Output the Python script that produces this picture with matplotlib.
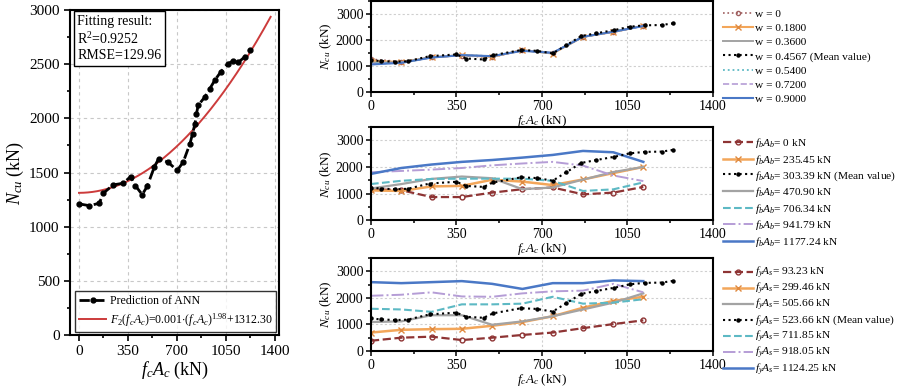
import numpy as np
import matplotlib
matplotlib.use("Agg")
import matplotlib.pyplot as plt
from matplotlib.ticker import MultipleLocator

plt.rcParams['font.family'] = ['Liberation Serif', 'DejaVu Serif']
plt.rcParams['mathtext.fontset'] = 'custom'
plt.rcParams['mathtext.rm'] = 'Liberation Serif'
plt.rcParams['mathtext.it'] = 'Liberation Serif:italic'
plt.rcParams['mathtext.bf'] = 'Liberation Serif:bold'

# ---------------- data ----------------
# ANN prediction (mean-value input), left panel
ann_x = [2, 74, 145, 174, 245, 317, 369, 402, 452, 488, 538, 569, 636, 702, 745,
         793, 812, 829, 840, 852, 900, 936, 971, 1014, 1066, 1102, 1138, 1186, 1221]
ann_y = [1210, 1194, 1216, 1309, 1386, 1401, 1463, 1380, 1296, 1373, 1549, 1627, 1596,
         1519, 1596, 1765, 1858, 1950, 2043, 2120, 2197, 2275, 2352, 2429, 2506, 2528,
         2516, 2568, 2630]

# fitted function F2 = a * x^b + c
fit_a, fit_b, fit_c = 0.001, 1.98, 1312.30
fit_xmax = 1370

# mean-value curve in the right panels
mean_x = [0, 40, 100, 150, 240, 350, 390, 461, 500, 614, 680, 744, 800, 861, 920,
          997, 1060, 1120, 1190, 1238]
mean_y = [1224, 1190, 1165, 1180, 1378, 1444, 1288, 1250, 1417, 1610, 1583, 1483, 1803,
          2150, 2254, 2382, 2510, 2564, 2575, 2641]

# common fcAc grid of the parametric curves
grid_x = [0, 124, 248, 372, 496, 620, 744, 868, 992, 1115]

# panel 1: w
w_labels = ['w = 0', 'w = 0.1800', 'w = 0.3600', 'w = 0.5400', 'w = 0.7200', 'w = 0.9000']
w_vals = [
    [1260, 1170, 1340, 1400, 1330, 1620, 1490, 2130, 2300, 2540],
    [1200, 1150, 1330, 1420, 1350, 1610, 1480, 2120, 2310, 2550],
    [1130, 1140, 1330, 1420, 1370, 1600, 1500, 2120, 2320, 2540],
    [1100, 1130, 1320, 1420, 1380, 1590, 1500, 2120, 2320, 2540],
    [1080, 1125, 1325, 1415, 1380, 1590, 1505, 2125, 2318, 2538],
    [1058, 1120, 1326, 1416, 1378, 1583, 1506, 2124, 2317, 2536],
]
w_mean_label = 'w = 0.4567 (Mean value)'

# panel 2: fbAb
fb_labels = ['$f_bA_b$= 0 kN', '$f_bA_b$= 235.45 kN', '$f_bA_b$= 470.90 kN',
             '$f_bA_b$= 706.34 kN', '$f_bA_b$= 941.79 kN', '$f_bA_b$= 1177.24 kN']
fb_vals = [
    [1166, 1128, 871, 871, 1037, 1166, 1230, 973, 1037, 1250],
    [1120, 1100, 1270, 1290, 1520, 1450, 1320, 1530, 1770, 2000],
    [1192, 1358, 1551, 1641, 1577, 1166, 1230, 1526, 1808, 2000],
    [1360, 1480, 1550, 1560, 1560, 1560, 1480, 1100, 1160, 1420],
    [1800, 1850, 1900, 1960, 2060, 2130, 2190, 2050, 1680, 1470],
    [1740, 1960, 2090, 2190, 2260, 2350, 2450, 2600, 2550, 2190],
]
fb_mean_label = '$f_bA_b$= 303.39 kN (Mean value)'

# panel 3: fyAs
fy_labels = ['$f_yA_s$= 93.23 kN', '$f_yA_s$= 299.46 kN', '$f_yA_s$= 505.66 kN',
             '$f_yA_s$= 711.85 kN', '$f_yA_s$= 918.05 kN', '$f_yA_s$= 1124.25 kN']
fy_vals = [
    [386, 501, 540, 412, 501, 604, 694, 860, 1013, 1154],
    [694, 797, 822, 835, 950, 1090, 1308, 1628, 1885, 2041],
    [1090, 1115, 1346, 1346, 987, 1115, 1308, 1564, 1820, 2169],
    [1590, 1564, 1474, 1756, 1756, 1782, 2041, 1782, 1820, 1949],
    [2079, 2118, 2208, 2054, 2041, 2169, 2246, 2272, 2528, 2208],
    [2592, 2554, 2592, 2631, 2528, 2336, 2554, 2554, 2656, 2631],
]
fy_mean_label = '$f_yA_s$= 523.66 kN (Mean value)'

# ---------------- styles ----------------
RED = '#8E3434'
ORANGE = '#F3A65A'
GREY = '#A3A3A3'
TEAL = '#5DB9C4'
PURPLE = '#B59DD6'
BLUE = '#4A78C6'

styles_w = [
    dict(color='#A06060', ls=':', lw=1.2, marker='o', ms=3, mfc='none'),
    dict(color=ORANGE, ls='-', lw=1.5, marker='x', ms=4, mec='#E08A40'),
    dict(color=GREY, ls='-', lw=1.4),
    dict(color=TEAL, ls=':', lw=1.3),
    dict(color=PURPLE, ls='--', lw=1.2),
    dict(color=BLUE, ls='-', lw=1.5),
]
styles_p = [
    dict(color=RED, ls='--', lw=1.6, marker='o', ms=3.5, mfc='none'),
    dict(color=ORANGE, ls='-', lw=1.8, marker='x', ms=4, mec='#E08A40'),
    dict(color=GREY, ls='-', lw=1.6),
    dict(color=TEAL, ls='--', lw=1.5),
    dict(color=PURPLE, ls='-.', lw=1.4),
    dict(color=BLUE, ls='-', lw=1.8),
]
mean_style = dict(color='black', ls=':', lw=1.5, marker='o', ms=2.2)

fig = plt.figure(figsize=(8.98, 3.89), dpi=100)

# ---------------- left panel ----------------
axL = fig.add_axes([0.078, 0.1388, 0.2327, 0.8355])
axL.plot(ann_x, ann_y, color='black', ls='--', lw=2, marker='o', ms=3.5,
         label='Prediction of ANN', zorder=3)
fx = np.linspace(0, fit_xmax, 300)
axL.plot(fx, fit_a * fx ** fit_b + fit_c, color='#CC3B3B', lw=1.4,
         label='$F_2(f_cA_c)$=0.001$\\cdot$$(f_cA_c)^{1.98}$+1312.30', zorder=2)
axL.set_xlim(-64, 1430)
axL.set_ylim(0, 3000)
axL.xaxis.set_major_locator(MultipleLocator(350))
axL.xaxis.set_minor_locator(MultipleLocator(175))
axL.yaxis.set_major_locator(MultipleLocator(500))
axL.yaxis.set_minor_locator(MultipleLocator(250))
axL.grid(True, which='major', color='#C8C8C8', ls=(0, (3, 3)), lw=0.8)
axL.tick_params(which='both', direction='out', labelsize=11, width=1.2)
axL.tick_params(which='major', length=4)
axL.tick_params(which='minor', length=2.5)
for s in axL.spines.values():
    s.set_linewidth(1.5)
axL.set_xlabel('$f_cA_c$ (kN)', fontsize=13, labelpad=1)
axL.set_ylabel('$N_{cu}$ (kN)', fontsize=13, labelpad=2)
axL.text(0.035, 0.985, 'Fitting result:\nR$^2$=0.9252\nRMSE=129.96', transform=axL.transAxes,
         fontsize=10, va='top', ha='left', linespacing=1.25,
         bbox=dict(boxstyle='square,pad=0.25', fc='white', ec='black', lw=1))
legL = axL.legend(loc='lower left', fontsize=8.6, frameon=True, fancybox=False,
                  edgecolor='black', handlelength=2.3, borderpad=0.3, labelspacing=0.35,
                  borderaxespad=0.1, handletextpad=0.3, mode='expand',
                  bbox_to_anchor=(0.02, 0.005, 0.97, 0.2))
legL.get_frame().set_linewidth(1)

# ---------------- right panels ----------------
panels = [
    ([0.4131, 0.7635, 0.3808, 0.234], w_labels, w_vals, w_mean_label, styles_w, 3, 0.36, 0.39),
    ([0.4131, 0.4337, 0.3808, 0.240], fb_labels, fb_vals, fb_mean_label, styles_p, 2, 0.22, 0.30),
    ([0.4131, 0.0977, 0.3808, 0.239], fy_labels, fy_vals, fy_mean_label, styles_p, 3, 0.0, 0.32),
]
for rect, labels, vals, mlabel, styles, mpos, lsp, ly in panels:
    ax = fig.add_axes(rect)
    handles = []
    for lab, v, st in zip(labels, vals, styles):
        h, = ax.plot(grid_x, v, label=lab, **st)
        handles.append(h)
    hm, = ax.plot(mean_x, mean_y, label=mlabel, zorder=4, **mean_style)
    handles.insert(mpos, hm)
    ax.set_xlim(0, 1400)
    ax.set_ylim(0, 3500)
    ax.xaxis.set_major_locator(MultipleLocator(350))
    ax.xaxis.set_minor_locator(MultipleLocator(175))
    ax.yaxis.set_major_locator(MultipleLocator(1000))
    ax.yaxis.set_minor_locator(MultipleLocator(500))
    ax.grid(True, which='major', color='#CFCFCF', ls=(0, (2, 2)), lw=0.8)
    ax.tick_params(which='both', direction='out', labelsize=10, width=1.1, pad=2)
    ax.tick_params(which='major', length=3.5)
    ax.tick_params(which='minor', length=2)
    for s in ax.spines.values():
        s.set_linewidth(1.5)
    ax.set_xlabel('$f_cA_c$ (kN)', fontsize=9.5, labelpad=0)
    ax.set_ylabel('$N_{cu}$ (kN)', fontsize=9.5, labelpad=1)
    ax.legend(handles=handles, loc='center left', bbox_to_anchor=(1.03, ly), fontsize=8.2,
              frameon=False, handlelength=2.6, handletextpad=0.2, labelspacing=lsp,
              borderaxespad=0.0, borderpad=0.0)

fig.savefig('out.png', dpi=100)
